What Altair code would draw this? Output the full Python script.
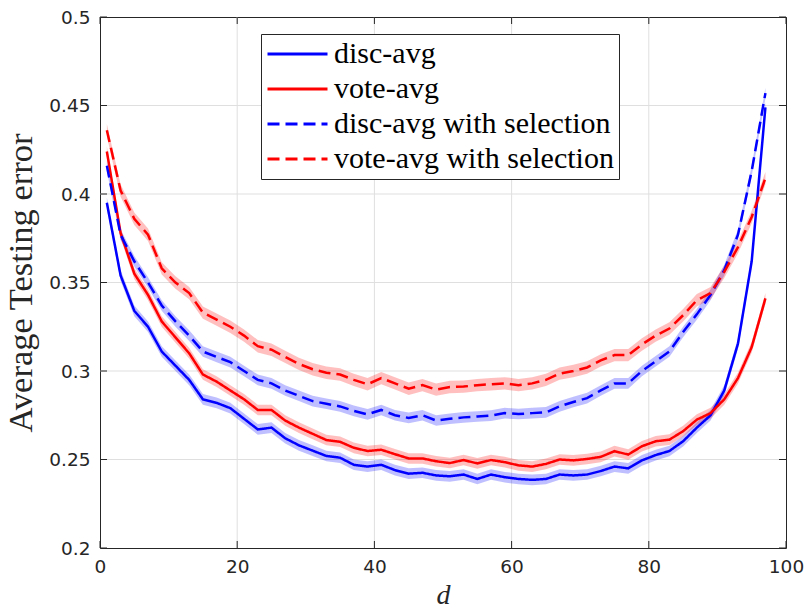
import altair as alt
import pandas as pd

# ---------------- data ----------------
d_values = list(range(1, 98, 2))

disc_avg = [0.395, 0.354, 0.334, 0.325, 0.311, 0.303, 0.295, 0.284, 0.282, 0.279,
            0.273, 0.267, 0.268, 0.262, 0.258, 0.255, 0.252, 0.251, 0.247, 0.246,
            0.247, 0.244, 0.242, 0.2425, 0.241, 0.2405, 0.2415, 0.239, 0.2415, 0.240,
            0.239, 0.2385, 0.239, 0.2415, 0.241, 0.2415, 0.2435, 0.246, 0.245, 0.2495,
            0.2525, 0.2548, 0.2603, 0.268, 0.275, 0.289, 0.3155, 0.362, 0.449]

vote_avg = [0.424, 0.378, 0.355, 0.343, 0.328, 0.319, 0.310, 0.298, 0.294, 0.289,
            0.284, 0.278, 0.278, 0.272, 0.268, 0.2645, 0.261, 0.260, 0.2566, 0.2548,
            0.2555, 0.253, 0.2506, 0.2506, 0.249, 0.248, 0.2497, 0.2478, 0.2497, 0.2485,
            0.2467, 0.246, 0.2475, 0.250, 0.2495, 0.2503, 0.2515, 0.2547, 0.2528, 0.2575,
            0.2603, 0.2612, 0.266, 0.2725, 0.2762, 0.284, 0.296, 0.3135, 0.341]

disc_sel = [0.416, 0.377, 0.362, 0.350, 0.337, 0.328, 0.320, 0.311, 0.308, 0.305,
            0.300, 0.295, 0.293, 0.289, 0.286, 0.283, 0.2815, 0.280, 0.2775, 0.2755,
            0.278, 0.275, 0.2735, 0.275, 0.272, 0.273, 0.2738, 0.2743, 0.2748, 0.2762,
            0.2757, 0.2762, 0.2766, 0.280, 0.2825, 0.2847, 0.289, 0.293, 0.293, 0.300,
            0.3055, 0.311, 0.322, 0.332, 0.343, 0.357, 0.377, 0.413, 0.457]

vote_sel = [0.436, 0.402, 0.386, 0.377, 0.358, 0.350, 0.344, 0.333, 0.329, 0.325,
            0.320, 0.314, 0.312, 0.308, 0.304, 0.301, 0.299, 0.298, 0.295, 0.2925,
            0.296, 0.293, 0.290, 0.292, 0.2895, 0.291, 0.2912, 0.292, 0.2925, 0.293,
            0.292, 0.293, 0.295, 0.2985, 0.300, 0.302, 0.306, 0.309, 0.309, 0.315,
            0.320, 0.324, 0.3315, 0.340, 0.344, 0.356, 0.370, 0.387, 0.409]

series_names = ["disc-avg", "vote-avg", "disc-avg with selection", "vote-avg with selection"]
series_values = [disc_avg, vote_avg, disc_sel, vote_sel]
band_halfwidth = [0.003, 0.003, 0.003, 0.0035]
series_colors = ["#0000ff", "#ff0000", "#0000ff", "#ff0000"]
series_dash = [[1, 0], [1, 0], [12, 6], [12, 6]]

x_ticks = [0, 20, 40, 60, 80, 100]
y_ticks = [0.2, 0.25, 0.3, 0.35, 0.4, 0.45, 0.5]

# ---------------- layout / style ----------------
W, H = 686, 531
TICK_LEN = 7
AX_COLOR = "#262626"
GRID_COLOR = "#dfdfdf"
SERIF = "Liberation Serif"
SANS = "DejaVu Sans"

rows = []
for name, vals, hw in zip(series_names, series_values, band_halfwidth):
    for d, v in zip(d_values, vals):
        rows.append({"d": d, "err": v, "lo": v - hw, "hi": v + hw, "series": name})
df = pd.DataFrame(rows)

# band fill scale uses its own (sorted) domain so its hidden legend is not merged
color_of = dict(zip(series_names, series_colors))
band_domain = sorted(series_names)
band_range = [color_of[n] for n in band_domain]

xscale = alt.Scale(domain=[0, 100], nice=False, zero=False)
yscale = alt.Scale(domain=[0.2, 0.5], nice=False, zero=False)

x_axis = alt.Axis(values=x_ticks, title="d", titleFont=SERIF, titleFontStyle="italic",
                  titleFontWeight="normal", titleFontSize=28, titleColor=AX_COLOR,
                  titlePadding=6, labelFont=SANS, labelFontSize=18.5, labelColor=AX_COLOR,
                  labelPadding=9, ticks=False, tickSize=0, domain=False, grid=False,
                  labelFlush=False)
y_axis = alt.Axis(values=y_ticks, format=".2~f", title="Average Testing error",
                  titleFont=SERIF, titleFontWeight="normal", titleFontSize=34.5,
                  titleColor=AX_COLOR, titlePadding=10, labelFont=SANS,
                  labelFontSize=18.5, labelColor=AX_COLOR, labelPadding=10,
                  ticks=False, tickSize=0, domain=False, grid=False,
                  labelFlush=False)

legend = alt.Legend(orient="none", legendX=161, legendY=17, title=None,
                    symbolType="stroke", symbolSize=3600, symbolStrokeWidth=3,
                    clipHeight=30, rowPadding=5, padding=5, labelOffset=5,
                    labelFont=SERIF, labelFontSize=30, labelColor="black",
                    labelLimit=600, strokeColor=AX_COLOR, fillColor="white")

# interior grid lines (edges are the frame)
xgrid_df = pd.DataFrame({"d": x_ticks[1:-1]})
ygrid_df = pd.DataFrame({"err": y_ticks[1:-1]})

xgrid = alt.Chart(xgrid_df).mark_rule(color=GRID_COLOR, strokeWidth=1).encode(
    x=alt.X("d:Q", scale=xscale, axis=x_axis))
ygrid = alt.Chart(ygrid_df).mark_rule(color=GRID_COLOR, strokeWidth=1).encode(
    y=alt.Y("err:Q", scale=yscale, axis=y_axis))

base = alt.Chart(df)

bands = base.mark_area(fillOpacity=0.25, strokeWidth=0).encode(
    x=alt.X("d:Q", scale=xscale),
    y=alt.Y("lo:Q", scale=yscale),
    y2="hi:Q",
    fill=alt.Fill("series:N", scale=alt.Scale(domain=band_domain, range=band_range),
                  legend=None),
)

lines = base.mark_line(strokeWidth=2.5).encode(
    x=alt.X("d:Q", scale=xscale),
    y=alt.Y("err:Q", scale=yscale),
    color=alt.Color("series:N", scale=alt.Scale(domain=series_names, range=series_colors),
                    legend=legend),
    strokeDash=alt.StrokeDash("series:N",
                              scale=alt.Scale(domain=series_names, range=series_dash),
                              legend=legend),
)

ytick_df = pd.DataFrame({"err": y_ticks})
xtick_df = pd.DataFrame({"d": x_ticks})

left_ticks = alt.Chart(ytick_df).mark_rule(color=AX_COLOR, strokeWidth=1).encode(
    y=alt.Y("err:Q", scale=yscale), x=alt.value(0), x2=alt.value(TICK_LEN))
right_ticks = alt.Chart(ytick_df).mark_rule(color=AX_COLOR, strokeWidth=1).encode(
    y=alt.Y("err:Q", scale=yscale), x=alt.value(W - TICK_LEN), x2=alt.value(W))
bottom_ticks = alt.Chart(xtick_df).mark_rule(color=AX_COLOR, strokeWidth=1).encode(
    x=alt.X("d:Q", scale=xscale), y=alt.value(H - TICK_LEN), y2=alt.value(H))
top_ticks = alt.Chart(xtick_df).mark_rule(color=AX_COLOR, strokeWidth=1).encode(
    x=alt.X("d:Q", scale=xscale), y=alt.value(0), y2=alt.value(TICK_LEN))

chart = alt.layer(xgrid, ygrid, bands, lines,
                  left_ticks, right_ticks, bottom_ticks, top_ticks).properties(
    width=W, height=H,
    background="white",
    autosize=alt.AutoSizeParams(type="none"),
    padding={"left": 100, "top": 17, "right": 19, "bottom": 61},
).configure_view(stroke=AX_COLOR, strokeWidth=1)

chart.save("out.html", embed_options={"renderer": "svg", "actions": False})
